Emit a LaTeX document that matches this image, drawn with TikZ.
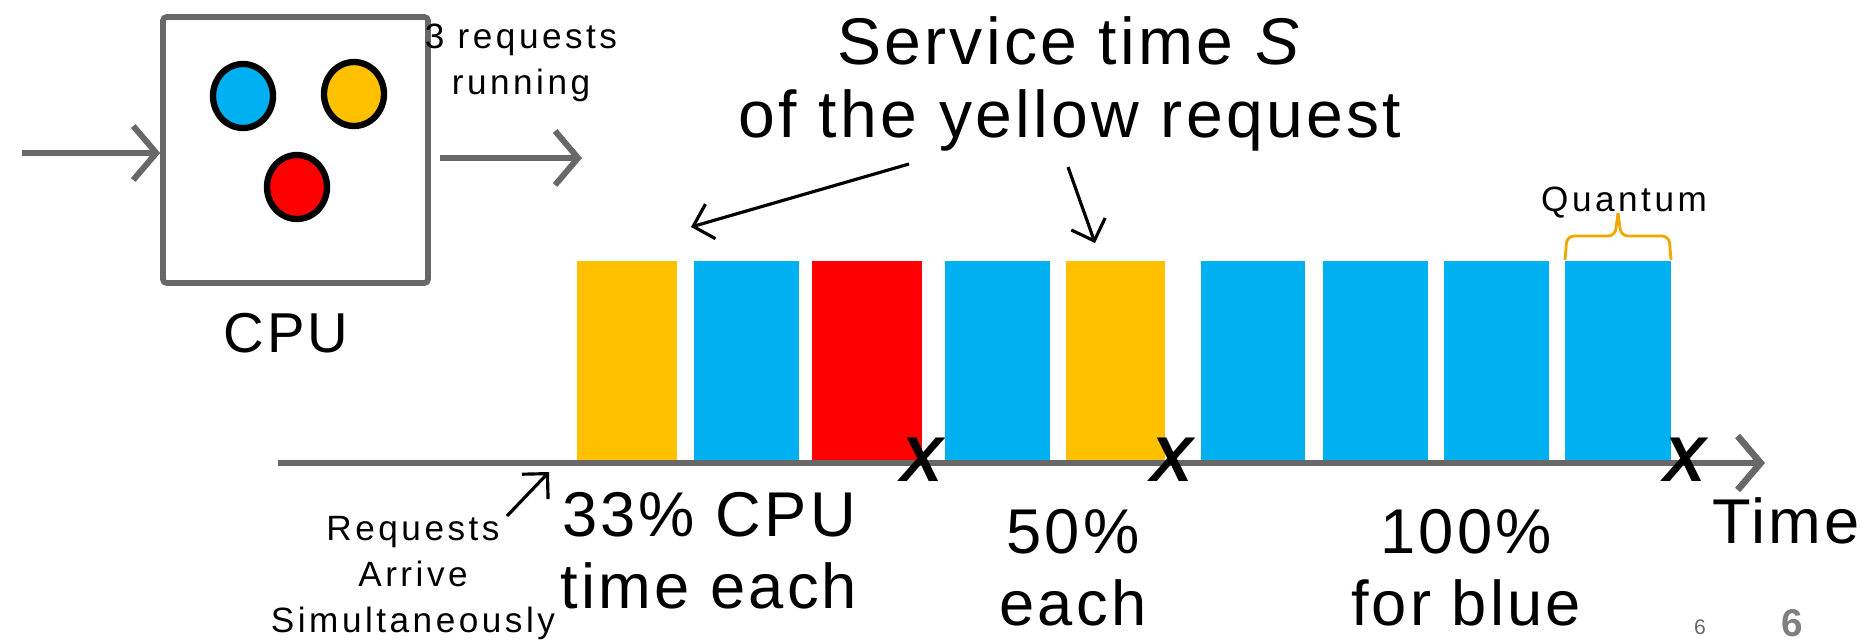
\documentclass[tikz,border=0pt]{standalone}
\usepackage{fontspec}
\setmainfont{Liberation Sans}[LetterSpace=5]
\newfontfamily\smallfont{Liberation Sans}[LetterSpace=10]
\usetikzlibrary{arrows.meta,shapes.geometric}
\definecolor{reqyellow}{RGB}{255,192,0}
\definecolor{reqblue}{RGB}{0,176,240}
\definecolor{reqred}{RGB}{255,0,0}
\definecolor{axisgray}{RGB}{104,104,104}
\definecolor{braceorange}{RGB}{240,168,0}
\tikzset{
	grayarrow/.style={axisgray, line width=1.7pt, -{Straight Barb[length=2.3mm,width=5.4mm]}},
	notearrow/.style={black, line width=0.9pt, -{Straight Barb[length=1.8mm,width=3.6mm]}},
	reqdot/.style={ellipse, draw=black, line width=1.8pt, minimum width=0.6cm, minimum height=0.64cm, inner sep=0pt},
	bigtext/.style={font=\fontsize{18}{20.5}\selectfont, align=center},
	smalltext/.style={font=\smallfont\fontsize{10}{13}\selectfont, align=center},
	xmark/.style={font=\fontsize{18}{18}\selectfont\bfseries\itshape}
}

\begin{document}
\begin{tikzpicture}
		\useasboundingbox (0,0) rectangle (18.76,6.40);
		
		\node[draw=axisgray, line width=1.6pt, rounded corners=1pt, minimum width=2.65cm, minimum height=2.66cm] (cpu) at (2.955,4.90) {};
		\node[reqdot, fill=reqblue] (rblue) at (2.43,5.44) {};
		\node[reqdot, fill=reqyellow] (ryellow) at (3.54,5.46) {};
		\node[reqdot, fill=reqred] (rred) at (2.97,4.53) {};
		\node[bigtext, font=\fontsize{16}{19}\selectfont] (cpulabel) at (2.86,3.07) {CPU};
		\node[smalltext] (running) at (5.21,5.77) {3 requests\\running};
		
		\coordinate (in) at (0.22,4.87);
		\coordinate (out0) at (4.40,4.82);
		\coordinate (out1) at (5.82,4.82);
		\draw[grayarrow] (in) -- (in -| cpu.west);
		\draw[grayarrow] (out0) -- (out1);
		
		\foreach \l/\r/\c in {5.77/6.77/reqyellow, 6.94/7.99/reqblue, 8.12/9.22/reqred, 9.45/10.50/reqblue, 10.66/11.65/reqyellow, 12.01/13.05/reqblue, 13.23/14.28/reqblue, 14.44/15.49/reqblue, 15.65/16.71/reqblue}
		\fill[\c] (\l,1.78) rectangle (\r,3.79);
		
		\coordinate (t0) at (2.78,1.77);
		\coordinate (t1) at (17.65,1.77);
		\draw[grayarrow, line width=1.9pt] (t0) -- (t1);
		
		\node[xmark] (done1) at (9.22,1.80) {X};
		\node[xmark] (done2) at (11.72,1.80) {X};
		\node[xmark] (done3) at (16.85,1.80) {X};
		
		\coordinate (q0) at (15.65,3.80);
		\coordinate (q1) at (16.71,3.80);
		\coordinate (qtip) at (16.18,4.27);
		\draw[braceorange, line width=0.8pt, rounded corners=2pt] (q0) -- ++(0.02,0.24) -- (16.15,4.04) -- (qtip);
		\draw[braceorange, line width=0.8pt, rounded corners=2pt] (q1) -- ++(-0.02,0.24) -- (16.21,4.04) -- (qtip);
		\node[smalltext, anchor=base] (quantum) at (16.24,4.29) {Quantum};
		
		\node[bigtext, font=\fontsize{18.8}{20.8}\selectfont] (title) at (10.70,5.56) {Service time \textit{S}\\of the yellow request};
		\coordinate (ta) at (9.09,4.76);
		\coordinate (tb) at (10.68,4.73);
		\coordinate (ya) at (6.91,4.13);
		\coordinate (yb) at (10.95,3.97);
		\draw[notearrow] (ta) -- (ya);
		\draw[notearrow] (tb) -- (yb);
		
		\node[smalltext] (arrive) at (4.13,0.62) {Requests\\Arrive\\Simultaneously};
		\coordinate (ra) at (5.07,1.24);
		\coordinate (rb) at (5.49,1.68);
		\draw[notearrow] (ra) -- (rb);
		
		\node[bigtext] (share1) at (7.09,0.89) {33\% CPU\\time each};
		\node[bigtext] (share2) at (10.73,0.72) {50\%\\each};
		\node[bigtext] (share3) at (14.66,0.72) {100\%\\for blue};
		\node[bigtext] (timelabel) at (17.86,1.19) {Time};
		
		\node[font=\fontsize{6}{6}\selectfont, axisgray] (pnum) at (17.00,0.13) {6};
		\node[font=\fontsize{11}{11}\selectfont\bfseries, axisgray!85] (pnumbig) at (17.92,0.17) {6};
	\end{tikzpicture}
\end{document}
